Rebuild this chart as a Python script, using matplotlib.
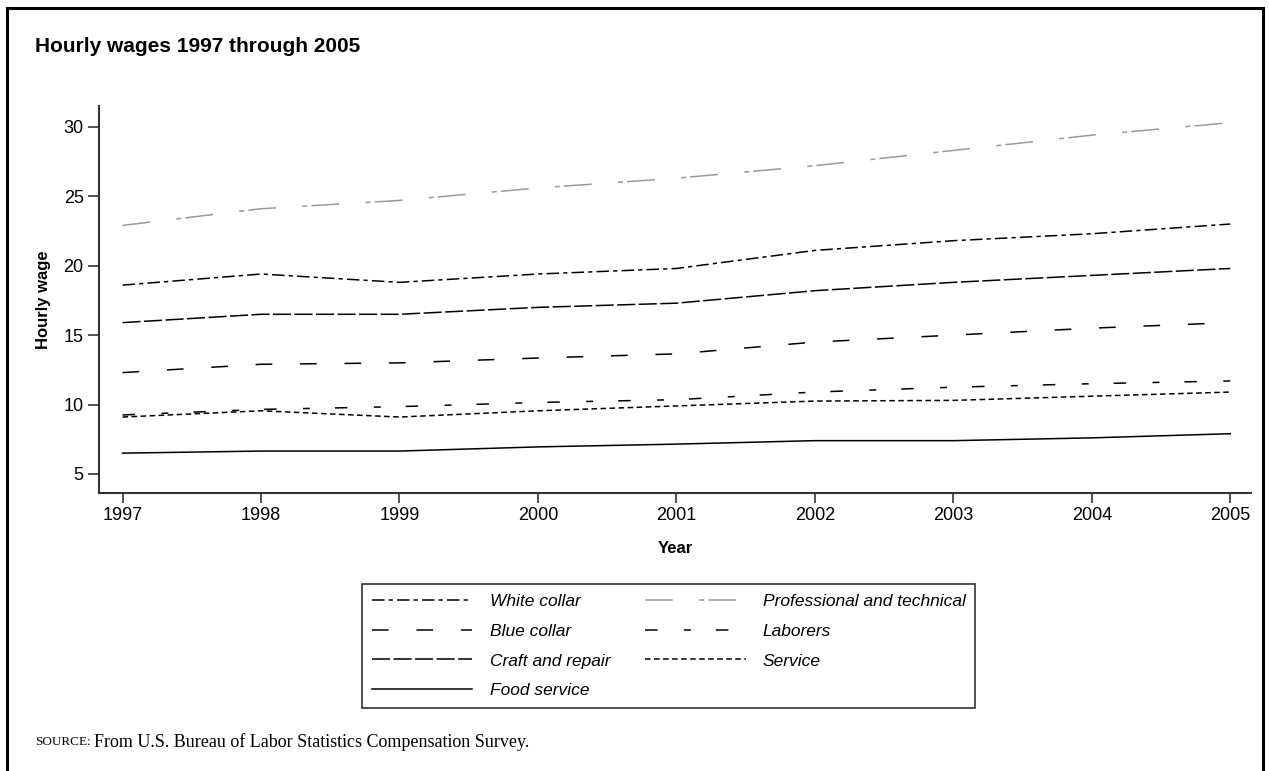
import numpy as np
import matplotlib.pyplot as plt
from matplotlib.patches import Rectangle

plt.rcParams['lines.scale_dashes'] = False
plt.rcParams['font.family'] = ['Liberation Sans', 'DejaVu Sans']

years = [1997, 1998, 1999, 2000, 2001, 2002, 2003, 2004, 2005]
white_collar = [18.6, 19.4, 18.8, 19.4, 19.8, 21.1, 21.8, 22.3, 23.0]
professional = [22.9, 24.1, 24.7, 25.6, 26.3, 27.2, 28.3, 29.4, 30.3]
blue_collar = [12.3, 12.9, 13.0, 13.35, 13.65, 14.5, 15.0, 15.5, 15.9]
laborers = [9.25, 9.65, 9.85, 10.15, 10.35, 10.9, 11.25, 11.5, 11.7]
craft_repair = [15.9, 16.5, 16.5, 17.0, 17.3, 18.2, 18.8, 19.3, 19.8]
service = [9.1, 9.55, 9.1, 9.55, 9.9, 10.25, 10.3, 10.6, 10.9]
food_service = [6.5, 6.65, 6.65, 6.95, 7.15, 7.4, 7.4, 7.6, 7.9]

W, H = 1269, 771
fig = plt.figure(figsize=(W / 100, H / 100), dpi=100)
ax = fig.add_axes([99 / W, 1 - 493 / H, (1251 - 99) / W, (493 - 106) / H])

lw = 1.1
# series in legend order (column-wise fill)
series = [
    ('White collar', white_collar, 'black', (0, (9, 3, 3, 3))),
    ('Blue collar', blue_collar, 'black', (0, (12, 20))),
    ('Craft and repair', craft_repair, 'black', (0, (13, 2.5))),
    ('Food service', food_service, 'black', '-'),
    ('Professional and technical', professional, '#999999', (0, (20, 19, 3.6, 3))),
    ('Laborers', laborers, 'black', (0, (9, 19, 5, 18))),
    ('Service', service, 'black', (0, (4, 2.5))),
]
for name, vals, col, ls in series:
    ax.plot(years, vals, color=col, linestyle=ls, linewidth=lw, label=name)

ax.set_xlim(1996.83, 2005.15)
ax.set_ylim(3.63, 31.5)
ax.set_xticks(years)
ax.set_yticks([5, 10, 15, 20, 25, 30])
for s in ['top', 'right']:
    ax.spines[s].set_visible(False)
for s in ['left', 'bottom']:
    ax.spines[s].set_color('#333333')
    ax.spines[s].set_linewidth(1.5)
ax.tick_params(axis='both', direction='out', length=8, width=1.2, color='#333333',
               labelsize=13, pad=3)
ax.tick_params(axis='x', length=7)
ax.set_xlabel('Year', fontsize=12, fontweight='bold', labelpad=12)
ax.set_ylabel('Hourly wage', fontsize=12, fontweight='bold', labelpad=9)

fig.text(35 / W, 1 - 47 / H, 'Hourly wages 1997 through 2005', fontsize=15,
         fontweight='bold', va='center', ha='left')

leg = fig.legend(loc='upper left', bbox_to_anchor=(362 / W, 1 - 584 / H), ncol=2,
                 prop={'style': 'italic', 'size': 12.5}, handlelength=5.8,
                 handletextpad=1.0, columnspacing=2.0, labelspacing=0.85,
                 borderpad=0.55, fancybox=False, edgecolor='#333333', framealpha=1,
                 borderaxespad=0)
leg.get_frame().set_linewidth(1.2)

fig.text(35 / W, 1 - 742 / H, 'SOURCE:', fontsize=9.5, family='Liberation Serif',
         va='center', ha='left')
fig.text(94 / W, 1 - 742 / H, 'From U.S. Bureau of Labor Statistics Compensation Survey.',
         fontsize=13, family='Liberation Serif', va='center', ha='left')

fig.patches.append(Rectangle((7 / W, -0.05), (1263 - 7) / W, 1.05 - 8 / H,
                             transform=fig.transFigure, fill=False,
                             edgecolor='black', linewidth=2.2))

fig.savefig('out.png', dpi=100)
